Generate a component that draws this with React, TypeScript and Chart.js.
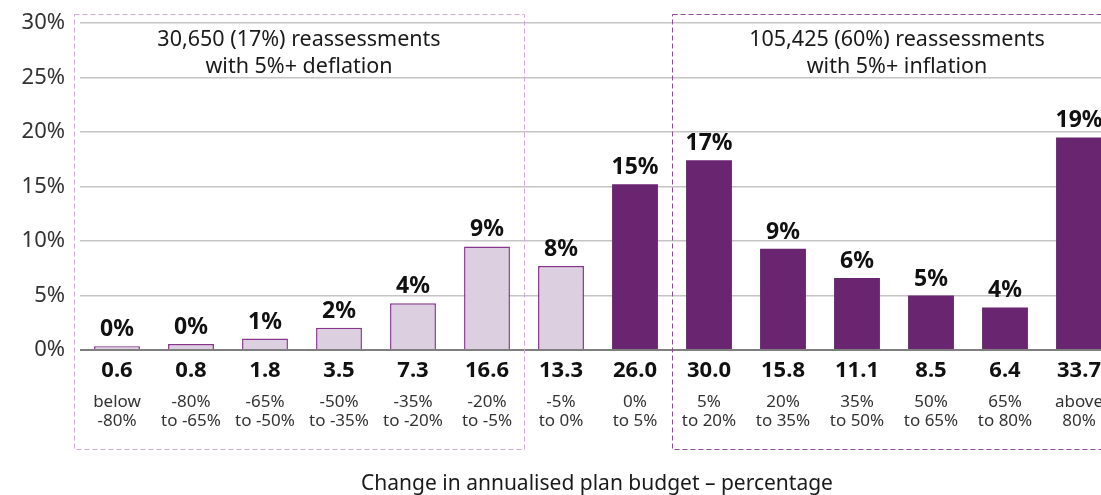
import React, { useEffect, useRef } from "react";
import { Chart, registerables } from "chart.js";

Chart.register(...registerables);

const categories: string[][] = [
  ["below", "-80%"],
  ["-80%", "to -65%"],
  ["-65%", "to -50%"],
  ["-50%", "to -35%"],
  ["-35%", "to -20%"],
  ["-20%", "to -5%"],
  ["-5%", "to 0%"],
  ["0%", "to 5%"],
  ["5%", "to 20%"],
  ["20%", "to 35%"],
  ["35%", "to 50%"],
  ["50%", "to 65%"],
  ["65%", "to 80%"],
  ["above", "80%"],
];
const shares: number[] = [0.35, 0.55, 1.05, 2.05, 4.3, 9.5, 7.7, 15.2, 17.4, 9.3, 6.6, 5.0, 3.9, 19.5];
const shareLabels: string[] = ["0%", "0%", "1%", "2%", "4%", "9%", "8%", "15%", "17%", "9%", "6%", "5%", "4%", "19%"];
const counts: string[] = ["0.6", "0.8", "1.8", "3.5", "7.3", "16.6", "13.3", "26.0", "30.0", "15.8", "11.1", "8.5", "6.4", "33.7"];
const isLight: boolean[] = [true, true, true, true, true, true, true, false, false, false, false, false, false, false];
const yTicks: number[] = [0, 5, 10, 15, 20, 25, 30];
const deflationText: string[] = ["30,650 (17%) reassessments", "with 5%+ deflation"];
const inflationText: string[] = ["105,425 (60%) reassessments", "with 5%+ inflation"];
const xTitle = "Change in annualised plan budget \u2013 percentage";

const FONT = '"Noto Sans", "Open Sans", sans-serif';
const DARK = "#6a2570";
const LIGHT = "#dccfe0";
const LIGHT_BORDER = "#86368c";

const overlay = {
  id: "overlay",
  afterDraw(chart: any) {
    const ctx = chart.ctx;
    const x = chart.scales.x;
    const y = chart.scales.y;
    const ca = chart.chartArea;
    const meta = chart.getDatasetMeta(0);
    const half = (x.getPixelForValue(1) - x.getPixelForValue(0)) / 2;
    ctx.save();
    // percentage labels
    ctx.fillStyle = "#111";
    ctx.textAlign = "center";
    ctx.textBaseline = "alphabetic";
    ctx.font = `bold 23px ${FONT}`;
    meta.data.forEach((bar: any, i: number) => {
      ctx.fillText(shareLabels[i], bar.x, bar.y - 10);
    });
    // counts
    ctx.font = `bold 22px ${FONT}`;
    ctx.textBaseline = "middle";
    counts.forEach((c, i) => {
      ctx.fillText(c, x.getPixelForValue(i), ca.bottom + 21);
    });
    // category labels
    ctx.font = `17px ${FONT}`;
    ctx.fillStyle = "#333";
    categories.forEach((lines, i) => {
      lines.forEach((t, j) => ctx.fillText(t, x.getPixelForValue(i), ca.bottom + 52 + j * 19.5));
    });
    // dashed boxes
    const top = y.getPixelForValue(30) - 9;
    const bottom = ca.bottom + 99;
    ctx.setLineDash([5, 3]);
    ctx.lineWidth = 1;
    ctx.strokeStyle = "#cfa9d6";
    const l1 = ca.left - 6;
    const r1 = x.getPixelForValue(5) + half;
    ctx.strokeRect(l1 + 0.5, top + 0.5, r1 - l1, bottom - top);
    ctx.strokeStyle = "#8e4c94";
    const l2 = x.getPixelForValue(7) + half;
    const r2 = ca.right + 6;
    ctx.strokeRect(l2 + 0.5, top + 0.5, r2 - l2, bottom - top);
    ctx.setLineDash([]);
    // box texts
    ctx.fillStyle = "#1a1a1a";
    ctx.font = `21.5px ${FONT}`;
    ctx.textBaseline = "middle";
    deflationText.forEach((t, i) => ctx.fillText(t, (l1 + r1) / 2, 40 + i * 26.5));
    inflationText.forEach((t, i) => ctx.fillText(t, (l2 + r2) / 2, 40 + i * 26.5));
    // x title
    ctx.font = `21px ${FONT}`;
    ctx.fillText(xTitle, 597, 484);
    ctx.restore();
  },
};

export default function App() {
  const ref = useRef<HTMLCanvasElement>(null);
  useEffect(() => {
    if (!ref.current) return;
    const chart = new Chart(ref.current, {
      type: "bar",
      data: {
        labels: categories.map((c) => c.join(" ")),
        datasets: [
          {
            data: shares,
            backgroundColor: isLight.map((l) => (l ? LIGHT : DARK)),
            borderColor: isLight.map((l) => (l ? LIGHT_BORDER : DARK)),
            borderWidth: isLight.map((l) => (l ? 1.5 : 0)),
            barPercentage: 0.62,
            categoryPercentage: 1,
          },
        ],
      },
      options: {
        responsive: false,
        animation: false,
        layout: { padding: { top: 23, right: 14, left: 0, bottom: 0 } },
        plugins: { legend: { display: false }, tooltip: { enabled: false } },
        scales: {
          x: {
            grid: { display: false },
            border: { display: false },
            ticks: { display: false },
            afterFit: (s: any) => {
              s.height = 145;
            },
          },
          y: {
            min: 0,
            max: 30,
            afterBuildTicks: (s: any) => {
              s.ticks = yTicks.map((v) => ({ value: v }));
            },
            border: { display: false },
            grid: {
              drawTicks: false,
              color: (c: any) => (c.tick && c.tick.value === 0 ? "#7f7f7f" : "#c4c4c4"),
              lineWidth: (c: any) => (c.tick && c.tick.value === 0 ? 2 : 1.5),
            },
            ticks: {
              padding: 15,
              color: "#333",
              font: { family: FONT, size: 22 },
              callback: (v: any) => `${v}%`,
            },
            afterFit: (s: any) => {
              s.width = 80;
              s.paddingTop = 0;
              s.paddingBottom = 0;
            },
          },
        },
      },
      plugins: [overlay],
    });
    return () => chart.destroy();
  }, []);
  return (
    <div
      style={{
        position: "fixed",
        left: 0,
        top: 0,
        width: 1101,
        height: 495,
        overflow: "hidden",
        background: "#fff",
      }}
    >
      <canvas ref={ref} width={1130} height={495} style={{ display: "block", width: 1130, height: 495 }} />
    </div>
  );
}
